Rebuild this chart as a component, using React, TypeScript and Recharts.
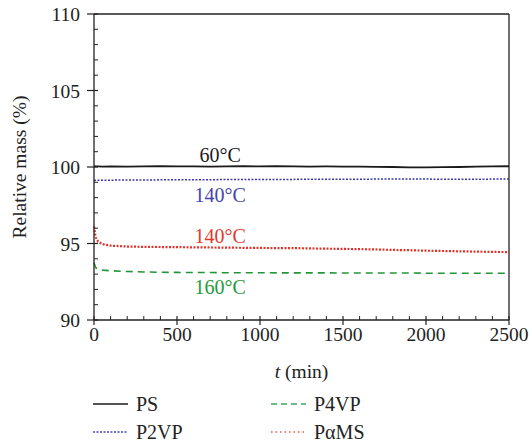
import React from "react"
import { LineChart, Line, XAxis, YAxis, ReferenceLine, ReferenceDot } from "recharts"

const timeMin = [0, 10, 25, 50, 100, 200, 300, 400, 500, 600, 700, 800, 900, 1000, 1100, 1200, 1300, 1400, 1500, 1600, 1700, 1800, 1900, 2000, 2100, 2200, 2300, 2400, 2500]
const psMass = [100.05, 100.04, 100.04, 100.03, 100.04, 100.03, 100.04, 100.05, 100.04, 100.04, 100.03, 100.04, 100.05, 100.04, 100.05, 100.04, 100.03, 100.04, 100.03, 100.02, 100.01, 100.0, 99.97, 99.97, 99.99, 100.0, 100.02, 100.04, 100.05]
const p2vpMass = [99.12, 99.13, 99.14, 99.14, 99.14, 99.15, 99.15, 99.16, 99.16, 99.17, 99.17, 99.18, 99.18, 99.19, 99.19, 99.19, 99.2, 99.2, 99.2, 99.2, 99.21, 99.21, 99.21, 99.21, 99.2, 99.2, 99.2, 99.21, 99.21]
const p4vpMass = [93.75, 93.42, 93.32, 93.26, 93.22, 93.17, 93.14, 93.12, 93.11, 93.1, 93.1, 93.09, 93.09, 93.09, 93.08, 93.08, 93.08, 93.08, 93.07, 93.07, 93.07, 93.07, 93.07, 93.06, 93.06, 93.06, 93.06, 93.06, 93.06]
const pamsMass = [96.1, 95.4, 95.12, 94.96, 94.86, 94.8, 94.78, 94.77, 94.76, 94.75, 94.74, 94.73, 94.72, 94.71, 94.7, 94.7, 94.68, 94.66, 94.65, 94.63, 94.61, 94.58, 94.56, 94.53, 94.51, 94.49, 94.47, 94.45, 94.44]

const xMajorTicks = [0, 500, 1000, 1500, 2000, 2500]
const xMinorTicks = [100, 200, 300, 400, 600, 700, 800, 900, 1100, 1200, 1300, 1400, 1600, 1700, 1800, 1900, 2100, 2200, 2300, 2400]
const yMajorTicks = [90, 95, 100, 105, 110]
const yMinorTicks = [91, 92, 93, 94, 96, 97, 98, 99, 101, 102, 103, 104, 106, 107, 108, 109]

const tempLabels = [
  { t: 760, mass: 100.8, text: "60°C", color: "#1a1a1a" },
  { t: 760, mass: 98.2, text: "140°C", color: "#4444aa" },
  { t: 760, mass: 95.5, text: "140°C", color: "#e23a2a" },
  { t: 760, mass: 92.15, text: "160°C", color: "#1f9a3c" },
]

const data = timeMin.map((t, i) => ({
  t,
  ps: psMass[i],
  p2vp: p2vpMass[i],
  p4vp: p4vpMass[i],
  pams: pamsMass[i],
}))

const serif = { fontFamily: "Liberation Serif" }

const XTick = (props: any) => {
  const { x, y, payload } = props
  const major = xMajorTicks.includes(payload.value)
  if (!major) return <line x1={x} x2={x} y1={y} y2={y - 4} stroke="#222" strokeWidth={1} />
  return (
    <g>
      <line x1={x} x2={x} y1={y - 4} y2={y + 5} stroke="#222" strokeWidth={1.2} />
      <text x={x} y={y + 21} textAnchor="middle" fontSize={19.5} style={serif} fill="#222">{payload.value}</text>
    </g>
  )
}

const YTick = (props: any) => {
  const { x, y, payload } = props
  const major = yMajorTicks.includes(payload.value)
  if (!major) return <line x1={x} x2={x + 4} y1={y} y2={y} stroke="#222" strokeWidth={1} />
  return (
    <g>
      <line x1={x - 7} x2={x + 4} y1={y} y2={y} stroke="#222" strokeWidth={1.2} />
      <text x={x - 14} y={y + 7} textAnchor="end" fontSize={19.5} style={serif} fill="#222">{payload.value}</text>
    </g>
  )
}

const legendItems = [
  { name: "PS", color: "#1a1a1a", dash: undefined, left: 93, top: 404 },
  { name: "P4VP", color: "#3aa860", dash: "6 4", left: 271, top: 404 },
  { name: "P2VP", color: "#4444aa", dash: "2 1.5", left: 93, top: 432 },
  { name: "PαMS", color: "#ec5a4a", dash: "1.5 3", left: 271, top: 432 },
]

export default function App() {
  return (
    <div style={{ position: "absolute", left: 0, top: 0, width: 529, height: 443, background: "#fff" }}>
      <LineChart width={529} height={443} data={data} margin={{ top: 14, right: 20, bottom: 50, left: 0 }}>
        <XAxis
          dataKey="t"
          type="number"
          domain={[0, 2500]}
          ticks={[...xMajorTicks, ...xMinorTicks].sort((a, b) => a - b)}
          tick={<XTick />}
          tickLine={false}
          tickSize={0}
          tickMargin={0}
          height={73}
          interval={0}
          axisLine={{ stroke: "#222", strokeWidth: 1.3 }}
          label={{
            content: (p: any) => {
              const vb = p.viewBox
              return (
                <text x={vb.x + vb.width / 2} y={vb.y + 58} textAnchor="middle" fontSize={19.5} style={serif} fill="#222">
                  <tspan fontStyle="italic">t</tspan> (min)
                </text>
              )
            },
          }}
        />
        <YAxis
          type="number"
          domain={[90, 110]}
          ticks={[...yMajorTicks, ...yMinorTicks].sort((a, b) => a - b)}
          tick={<YTick />}
          tickLine={false}
          tickSize={0}
          tickMargin={0}
          width={94}
          interval={0}
          axisLine={{ stroke: "#222", strokeWidth: 1.3 }}
          label={{
            content: (p: any) => {
              const vb = p.viewBox
              const cx = 19
              const cy = vb.y + vb.height / 2
              return (
                <text x={cx} y={cy} transform={`rotate(-90 ${cx} ${cy})`} textAnchor="middle" dominantBaseline="central" fontSize={19.5} style={serif} fill="#222">
                  Relative mass (%)
                </text>
              )
            },
          }}
        />
        <ReferenceLine y={110} stroke="#222" strokeWidth={1.3} />
        <ReferenceLine x={2500} stroke="#222" strokeWidth={1.3} />
        <Line type="linear" dataKey="ps" stroke="#1a1a1a" strokeWidth={1.8} dot={false} isAnimationActive={false} />
        <Line type="linear" dataKey="p2vp" stroke="#3a3aa8" strokeWidth={1.5} strokeDasharray="2 1.5" dot={false} isAnimationActive={false} />
        <Line type="linear" dataKey="p4vp" stroke="#23963a" strokeWidth={1.6} strokeDasharray="7 5" dot={false} isAnimationActive={false} />
        <Line type="linear" dataKey="pams" stroke="#e2332a" strokeWidth={2.2} strokeDasharray="2 1.5" dot={false} isAnimationActive={false} />
        {tempLabels.map((l, i) => (
          <ReferenceDot
            key={i}
            x={l.t}
            y={l.mass}
            r={0}
            stroke="none"
            fill="none"
            label={{
              content: (p: any) => {
                const vb = p.viewBox
                return (
                  <text x={vb.x + (vb.width || 0) / 2} y={vb.y + (vb.height || 0) / 2 + 7} textAnchor="middle" fontSize={20} style={serif} fill={l.color}>
                    {l.text}
                  </text>
                )
              },
            }}
          />
        ))}
      </LineChart>
      <svg width={529} height={60} style={{ position: "absolute", left: 0, top: 383 }}>
        {legendItems.map((item) => (
          <g key={item.name}>
            <line x1={item.left} x2={item.left + 35} y1={item.top - 383} y2={item.top - 383} stroke={item.color} strokeWidth={1.6} strokeDasharray={item.dash} />
            <text x={item.left + 43} y={item.top - 383 + 7} fontSize={20} style={serif} fill="#222">{item.name}</text>
          </g>
        ))}
      </svg>
    </div>
  )
}
